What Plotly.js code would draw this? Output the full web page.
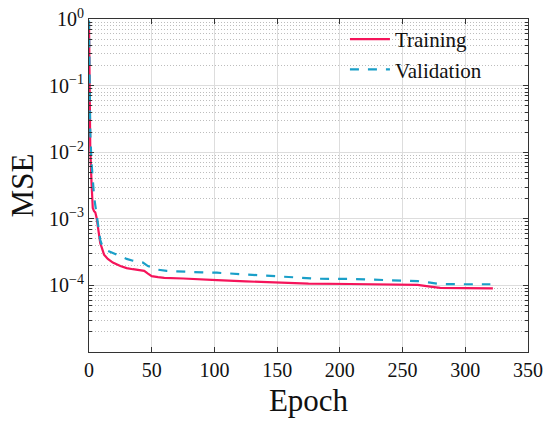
<!DOCTYPE html>
<html>
<head>
<meta charset="utf-8">
<script src="https://cdn.plot.ly/plotly-3.0.1.min.js"></script>
<style>html,body{margin:0;padding:0;background:#fff;}#chart{width:550px;height:425px;}</style>
</head>
<body>
<div id="chart"></div>
<script>
const trainEpoch = [0, 1, 2, 3, 4, 5, 6, 7, 8, 9, 10, 12, 15, 19, 25, 30, 35, 40, 44, 47, 50, 55, 60, 75, 88, 102, 125, 150, 175, 208, 240, 262, 272, 280, 300, 322];
const trainMSE = [0.9, 0.012, 3.5e-3, 1.45e-3, 1.3e-3, 1.25e-3, 1.05e-3, 7.5e-4, 5.2e-4, 4.3e-4, 3.8e-4, 2.9e-4, 2.5e-4, 2.2e-4, 1.95e-4, 1.82e-4, 1.75e-4, 1.7e-4, 1.65e-4, 1.5e-4, 1.38e-4, 1.33e-4, 1.3e-4, 1.27e-4, 1.25e-4, 1.2e-4, 1.15e-4, 1.09e-4, 1.06e-4, 1.05e-4, 1.04e-4, 1.02e-4, 9.6e-5, 9.2e-5, 9.1e-5, 9.0e-5];
const valEpoch = [0, 1, 2, 3, 4, 5, 6, 7, 8, 9, 10, 12, 15, 20, 25, 30, 35, 40, 43, 47, 50, 55, 62, 75, 90, 102, 128, 140, 155, 182, 208, 230, 250, 262, 272, 280, 300, 320];
const valMSE = [0.95, 0.02, 7e-3, 3.5e-3, 2.2e-3, 1.6e-3, 1.15e-3, 8e-4, 6e-4, 4.8e-4, 4.2e-4, 3.7e-4, 3.3e-4, 3.0e-4, 2.7e-4, 2.5e-4, 2.35e-4, 2.25e-4, 2.2e-4, 1.95e-4, 1.85e-4, 1.72e-4, 1.65e-4, 1.6e-4, 1.57e-4, 1.55e-4, 1.45e-4, 1.42e-4, 1.34e-4, 1.26e-4, 1.25e-4, 1.22e-4, 1.18e-4, 1.16e-4, 1.1e-4, 1.05e-4, 1.04e-4, 1.04e-4];
const xTicks = [0, 50, 100, 150, 200, 250, 300, 350];
const yTickVals = [1e-4, 1e-3, 1e-2, 1e-1, 1];
const yTickText = ['10<sup>−4</sup>', '10<sup>−3</sup>', '10<sup>−2</sup>', '10<sup>−1</sup>', '10<sup>0</sup>'];

const FONT = 'Liberation Serif, Times New Roman, serif';
const traces = [
  {x: trainEpoch, y: trainMSE, name: 'Training', type: 'scatter', mode: 'lines',
   line: {color: '#F5145A', width: 2.2}},
  {x: valEpoch, y: valMSE, name: 'Validation', type: 'scatter', mode: 'lines',
   line: {color: '#1A9FC8', width: 2.2, dash: 'dash'}}
];
const layout = {
  width: 550, height: 425,
  margin: {l: 89, r: 22, t: 19, b: 73},
  paper_bgcolor: '#fff', plot_bgcolor: '#fff',
  font: {family: FONT, color: '#222', size: 19},
  showlegend: true,
  legend: {x: 0.583, y: 1.0, xanchor: 'left', yanchor: 'top', bgcolor: 'rgba(0,0,0,0)',
           font: {family: FONT, size: 21, color: '#111'}, tracegroupgap: 0, itemwidth: 40},
  xaxis: {
    range: [0, 350], tickvals: xTicks, ticks: 'inside', ticklen: 5, tickcolor: '#333',
    showline: true, linecolor: '#333', linewidth: 1, mirror: 'ticks',
    showgrid: true, gridcolor: '#dddddd', gridwidth: 1, zeroline: false,
    tickfont: {family: FONT, size: 20, color: '#111'},
    title: {text: 'Epoch', font: {family: FONT, size: 31, color: '#111'}, standoff: 9}
  },
  yaxis: {
    type: 'log', range: [-5, 0], tickvals: yTickVals, ticktext: yTickText,
    ticks: 'inside', ticklen: 5, tickcolor: '#333',
    showline: true, linecolor: '#333', linewidth: 1, mirror: 'ticks',
    showgrid: true, gridcolor: '#dddddd', gridwidth: 1, zeroline: false,
    tickfont: {family: FONT, size: 20, color: '#111'},
    minor: {dtick: 'D1', ticks: 'inside', ticklen: 3, tickcolor: '#333',
            showgrid: true, gridcolor: '#bdbdbd', griddash: '1px,2px', gridwidth: 1},
    title: {text: 'MSE', font: {family: FONT, size: 31, color: '#111'}, standoff: 6}
  }
};
Plotly.newPlot('chart', traces, layout, {displayModeBar: false, staticPlot: true});
</script>
</body>
</html>
